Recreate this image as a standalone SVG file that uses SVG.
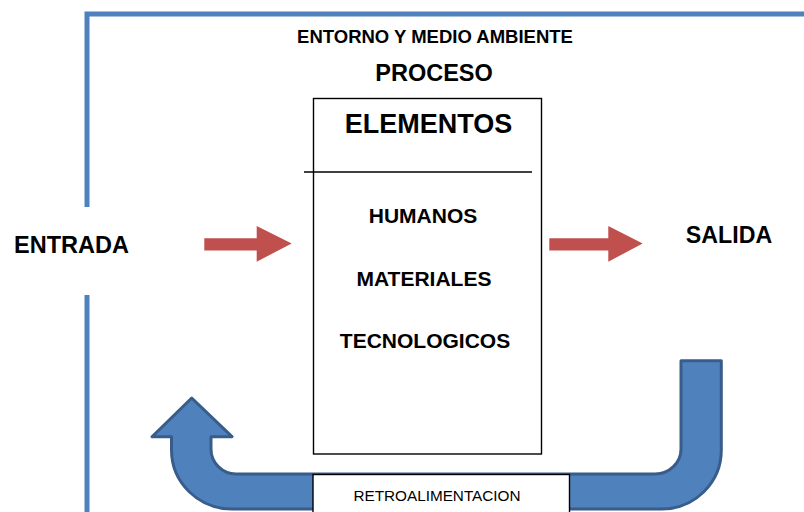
<svg xmlns="http://www.w3.org/2000/svg" width="804" height="512" viewBox="0 0 804 512">
<style>
text{font-family:"Liberation Sans",Arial,sans-serif;fill:#000;text-anchor:middle}
.b{font-weight:bold}
.frame{fill:none;stroke:#4f81bd;stroke-width:5}
.red{fill:#c0504d;stroke:none}
.box{fill:#fff;stroke:#000;stroke-width:1.4}
.u{fill:#4f81bd;stroke:#385d8a;stroke-width:3;stroke-linejoin:round}
</style>
<rect width="804" height="512" fill="#fff"/>
<g id="entorno">
<path class="frame" d="M87 207 L87 14 L806 14"/>
<path class="frame" d="M87 295 L87 514"/>
<text class="b" x="435" y="43" font-size="18.5">ENTORNO Y MEDIO AMBIENTE</text>
</g>
<g id="proceso">
<text class="b" x="434" y="81" font-size="23.5">PROCESO</text>
<rect class="box" x="313.5" y="98.5" width="228" height="355.5"/>
<line x1="304" y1="172" x2="532" y2="172" stroke="#000" stroke-width="1.6"/>
<text class="b" x="428.5" y="133" font-size="27">ELEMENTOS</text>
<text class="b" x="423" y="222.5" font-size="21">HUMANOS</text>
<text class="b" x="424" y="285.5" font-size="21">MATERIALES</text>
<text class="b" x="425" y="347.5" font-size="21">TECNOLOGICOS</text>
</g>
<g id="entrada">
<text class="b" x="71.5" y="253" font-size="23.5">ENTRADA</text>
</g>
<g id="salida">
<text class="b" x="729" y="242.5" font-size="23.2">SALIDA</text>
</g>
<g id="connectors">
<path class="red" d="M204.3 238.3 L256.7 238.3 L256.7 226 L291.7 243.5 L256.7 261.7 L256.7 250.5 L204.3 250.5 Z"/>
<path class="red" d="M549.3 238.3 L608.3 238.3 L608.3 226 L642.7 243.5 L608.3 261.7 L608.3 250.5 L549.3 250.5 Z"/>
<path class="u" d="M191.7 398 L232 436.7 L211 436.7 L211 449 A25 25 0 0 0 236 474 L655 474 A26 25 0 0 0 681 449 L681 360.8 L721.3 360.8 L721.3 450 A59.5 59 0 0 1 661.8 509 L232 509 A60.5 59 0 0 1 171.5 450 L171.5 436.7 L152 436.7 Z"/>
</g>
<g id="retroalimentacion">
<rect class="box" x="313" y="474.5" width="256.5" height="45"/>
<text x="437" y="501" font-size="15.3">RETROALIMENTACION</text>
</g>
</svg>
